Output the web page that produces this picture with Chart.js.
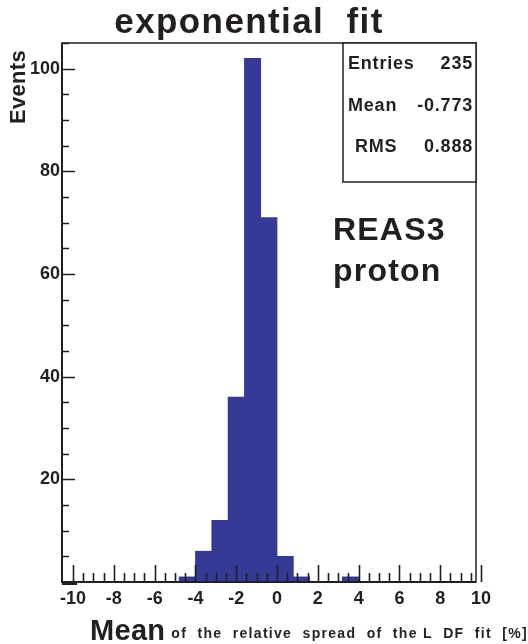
<!DOCTYPE html>
<html>
<head>
<meta charset="utf-8">
<script src="https://cdn.jsdelivr.net/npm/chart.js@4.4.1/dist/chart.umd.min.js"></script>
<style>
  html, body { margin: 0; padding: 0; background: #ffffff; }
  #wrap { width: 528px; height: 644px; position: relative; }
</style>
</head>
<body>
<div id="wrap"><canvas id="c" width="528" height="644"></canvas></div>
<script>
// ---- data ----
const binCenters = [-10.0, -9.2, -8.4, -7.6, -6.8, -6.0, -5.2, -4.4, -3.6, -2.8, -2.0, -1.2, -0.4,
                    0.4, 1.2, 2.0, 2.8, 3.6, 4.4, 5.2, 6.0, 6.8, 7.6, 8.4, 9.2, 10.0];
const counts =     [0, 0, 0, 0, 0, 0, 0, 1, 6, 12, 36, 102, 71,
                    5, 1, 0, 0, 1, 0, 0, 0, 0, 0, 0, 0, 0];
const xTickLabels = [-10, -8, -6, -4, -2, 0, 2, 4, 6, 8, 10];
const yTickLabels = [20, 40, 60, 80, 100];
const statsNames = ['Entries', 'Mean', 'RMS'];
const statsValues = ['235', '-0.773', '0.888'];
const titleText = 'exponential  fit';
const yTitle = 'Events';
const xTitleMain = 'Mean';
const xTitleRest = 'of  the  relative  spread  of  the L  DF  fit  [%]';
const noteLines = ['REAS3', 'proton'];

const INK = '#231f20';
const BAR = '#353a96';
const FONT = '"Liberation Sans", Arial, Helvetica, sans-serif';

function setSpacing(ctx, px) {
  if ('letterSpacing' in ctx) ctx.letterSpacing = px + 'px';
}

const decor = {
  id: 'decor',
  afterDraw(chart) {
    const ctx = chart.ctx;
    const a = chart.chartArea;
    const xs = chart.scales.x, ys = chart.scales.y;
    ctx.save();
    ctx.strokeStyle = INK;
    ctx.fillStyle = INK;
    // frame
    ctx.lineWidth = 1.5;
    ctx.strokeRect(a.left, a.top, a.right - a.left, a.bottom - a.top);
    ctx.lineWidth = 2;
    ctx.beginPath();
    ctx.moveTo(a.left, a.top); ctx.lineTo(a.left, a.bottom); ctx.lineTo(a.right, a.bottom);
    ctx.stroke();
    // y ticks (every 5, major every 20)
    ctx.lineWidth = 1.6;
    ctx.beginPath();
    for (let v = 5; v <= ys.max; v += 5) {
      const p = Math.round(ys.getPixelForValue(v)) + 0.5;
      const len = (v % 20 === 0) ? 13 : 7;
      ctx.moveTo(a.left, p); ctx.lineTo(a.left + len, p);
    }
    ctx.stroke();
    // x ticks (every 0.5, major every 2)
    ctx.beginPath();
    for (let k = -20; k <= 20; k++) {
      const v = k / 2;
      const p = Math.round(xs.getPixelForValue(v)) + 0.5;
      const len = (k % 4 === 0) ? 17 : 9;
      ctx.moveTo(p, a.bottom); ctx.lineTo(p, a.bottom - len);
    }
    ctx.stroke();
    ctx.lineWidth = 2;
    ctx.beginPath();
    ctx.moveTo(a.left, a.bottom + 2); ctx.lineTo(xs.getPixelForValue(-9.8), a.bottom + 2);
    ctx.stroke();

    // stats box
    const bx = 343, by = a.top, bw = a.right - 343, bh = 139;
    ctx.fillStyle = '#ffffff';
    ctx.fillRect(bx, by, bw, bh);
    ctx.lineWidth = 1.5;
    ctx.strokeRect(bx, by, bw, bh);
    ctx.fillStyle = INK;
    ctx.font = 'bold 18px ' + FONT;
    setSpacing(ctx, 0.8);
    ctx.textBaseline = 'alphabetic';
    const lineY = [69, 111, 152];
    const nameX = [348, 348, 355];
    for (let i = 0; i < statsNames.length; i++) {
      ctx.textAlign = 'left';
      ctx.fillText(statsNames[i], nameX[i], lineY[i]);
      ctx.textAlign = 'right';
      ctx.fillText(statsValues[i], a.right - 3, lineY[i]);
    }

    // note text
    ctx.textAlign = 'left';
    ctx.font = 'bold 32px ' + FONT;
    setSpacing(ctx, 1.2);
    ctx.fillText(noteLines[0], 333, 240);
    ctx.fillText(noteLines[1], 333, 281);

    // title
    ctx.textAlign = 'center';
    ctx.font = 'bold 35px ' + FONT;
    setSpacing(ctx, 1.4);
    ctx.fillText(titleText, 249, 33);

    // y title
    ctx.save();
    ctx.translate(25, 50);
    ctx.rotate(-Math.PI / 2);
    ctx.textAlign = 'right';
    ctx.font = 'bold 22px ' + FONT;
    setSpacing(ctx, 0.3);
    ctx.fillText(yTitle, 0, 0);
    ctx.restore();

    // x title
    ctx.textAlign = 'left';
    ctx.font = 'bold 29px ' + FONT;
    setSpacing(ctx, 0.3);
    ctx.fillText(xTitleMain, 90, 640);
    ctx.textAlign = 'right';
    ctx.font = 'bold 14px ' + FONT;
    setSpacing(ctx, 1.3);
    ctx.fillText(xTitleRest, 528, 638);
    ctx.restore();
  }
};

new Chart(document.getElementById('c'), {
  type: 'bar',
  data: {
    datasets: [{
      data: binCenters.map((x, i) => ({ x: x, y: counts[i] })),
      backgroundColor: BAR,
      borderWidth: 0,
      barPercentage: 1.0,
      categoryPercentage: 1.0
    }]
  },
  options: {
    responsive: false,
    animation: false,
    devicePixelRatio: 1,
    layout: { padding: { left: 0, right: 52, top: 43, bottom: 32 } },
    plugins: { legend: { display: false }, tooltip: { enabled: false }, title: { display: false } },
    scales: {
      x: {
        type: 'linear',
        offset: false,
        min: -10.54, max: 9.75,
        grid: { display: false, drawTicks: false, offset: false },
        border: { display: false },
        ticks: {
          autoSkip: false, maxRotation: 0, padding: 6, color: INK,
          font: { family: FONT, size: 18, weight: 'bold' }
        },
        afterBuildTicks: (s) => { s.ticks = xTickLabels.map(v => ({ value: v })); },
        afterFit: (s) => { s.height = 30; }
      },
      y: {
        min: 0, max: 105,
        grid: { display: false, drawTicks: false },
        border: { display: false },
        ticks: {
          padding: 2, color: INK,
          font: { family: FONT, size: 18, weight: 'bold' }
        },
        afterBuildTicks: (s) => { s.ticks = yTickLabels.map(v => ({ value: v })); },
        afterFit: (s) => { s.width = 62; }
      }
    }
  },
  plugins: [decor]
});
</script>
</body>
</html>
